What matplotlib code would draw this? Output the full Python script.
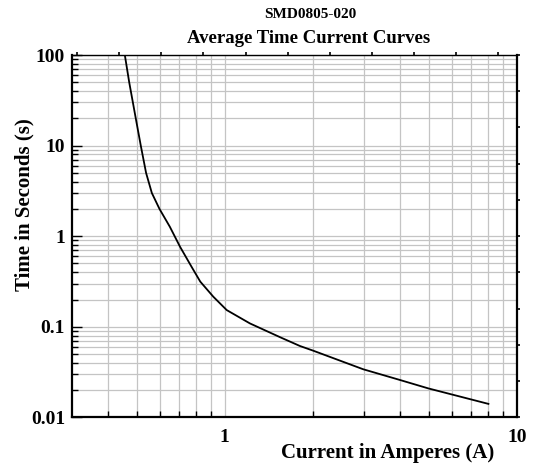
import numpy as np
import matplotlib
matplotlib.use("Agg")
import matplotlib.pyplot as plt
from matplotlib.ticker import FixedLocator, NullFormatter, NullLocator

# ---- data ----
current_a = [0.455, 0.471, 0.496, 0.516, 0.538, 0.563, 0.598, 0.649, 0.703,
             0.77, 0.825, 0.914, 1.016, 1.22, 1.55, 1.81, 2.01, 2.98, 3.98, 4.98, 8.0]
time_s = [100, 50, 20, 10, 5, 3, 2, 1.27, 0.766,
          0.46, 0.315, 0.215, 0.153, 0.109, 0.0766, 0.0614, 0.0545, 0.034, 0.0259, 0.0209, 0.0141]

x_major = [1, 10]
x_major_labels = ["1", "10"]
x_minor = [0.4, 0.5, 0.6, 0.7, 0.8, 0.9, 2, 3, 4, 5, 6, 7, 8, 9]
y_major = [0.01, 0.1, 1, 10, 100]
y_major_labels = ["0.01", "0.1", "1", "10", "100"]
y_minor = [m * d for d in [0.01, 0.1, 1, 10] for m in range(2, 10)]

title_lines = ["SMD0805-020", "Average Time Current Curves"]
x_label = "Current in Amperes (A)"
y_label = "Time in Seconds (s)"

plt.rcParams['font.family'] = ['Liberation Serif', 'DejaVu Serif']
plt.rcParams['font.weight'] = 'bold'

W, H = 534, 465
fig = plt.figure(figsize=(W / 100, H / 100), dpi=100)
ax = fig.add_axes([72 / W, 1 - 417.4 / H, (516.7 - 72) / W, (417.4 - 55) / H])

ax.set_xscale('log')
ax.set_yscale('log')
ax.set_xlim(0.3, 10)
ax.set_ylim(0.01, 100)

grid_c = '#c4c4c4'
for xv in x_major + x_minor:
    ax.axvline(xv, color=grid_c, lw=0.9, zorder=0)
for yv in y_major + y_minor:
    ax.axhline(yv, color=grid_c, lw=0.9, zorder=0)

ax.plot(current_a, time_s, color='black', lw=1.3, zorder=3)

ax.xaxis.set_major_locator(FixedLocator(x_major))
ax.xaxis.set_minor_locator(FixedLocator(x_minor))
ax.set_xticklabels(x_major_labels)
ax.xaxis.set_minor_formatter(NullFormatter())
ax.yaxis.set_major_locator(FixedLocator(y_major))
ax.yaxis.set_minor_locator(FixedLocator(y_minor))
ax.set_yticklabels(y_major_labels)
ax.yaxis.set_minor_formatter(NullFormatter())

ax.tick_params(axis='x', which='major', direction='in', length=0, pad=8, labelsize=14)
ax.tick_params(axis='x', which='minor', direction='in', length=4, width=1)
ax.tick_params(axis='y', which='major', direction='in', length=7, width=1, pad=5, labelsize=14)
ax.tick_params(axis='y', which='minor', direction='in', length=4, width=1)
for lab in ax.get_xticklabels() + ax.get_yticklabels():
    lab.set_fontweight('bold')

for s in ax.spines.values():
    s.set_color('black')
ax.spines['left'].set_linewidth(1.6)
ax.spines['bottom'].set_linewidth(1.6)
ax.spines['right'].set_linewidth(1.6)
ax.spines['top'].set_linewidth(1.0)

# small outward ticks on right side
axr = ax.twinx()
axr.set_yscale('log')
axr.set_ylim(0.01, 100)
axr.yaxis.set_major_locator(FixedLocator(10 ** np.arange(2, -2.01, -0.4)))
axr.yaxis.set_minor_locator(NullLocator())
axr.yaxis.set_major_formatter(NullFormatter())
axr.tick_params(axis='y', direction='out', length=2, width=1.2)
for s in axr.spines.values():
    s.set_visible(False)

# small outward ticks on top side
axt = ax.twiny()
axt.set_xlim(0, 1)
axt.xaxis.set_major_locator(FixedLocator(np.arange(0.0118, 1.0, 0.0946)))
axt.xaxis.set_minor_locator(NullLocator())
axt.xaxis.set_major_formatter(NullFormatter())
axt.tick_params(axis='x', direction='out', length=2, width=1.2)
for s in axt.spines.values():
    s.set_visible(False)

fig.text(310 / W, 1 - 15 / H, title_lines[0], ha='center', va='center', fontsize=11, fontweight='bold')
fig.text(309 / W, 1 - 38 / H, title_lines[1], ha='center', va='center', fontsize=13.5, fontweight='bold')
fig.text(388 / W, 1 - 453 / H, x_label, ha='center', va='center', fontsize=15, fontweight='bold')
fig.text(24 / W, 1 - 205 / H, y_label, ha='center', va='center', rotation=90, fontsize=15, fontweight='bold')

fig.savefig('out.png', dpi=100, facecolor='white')
